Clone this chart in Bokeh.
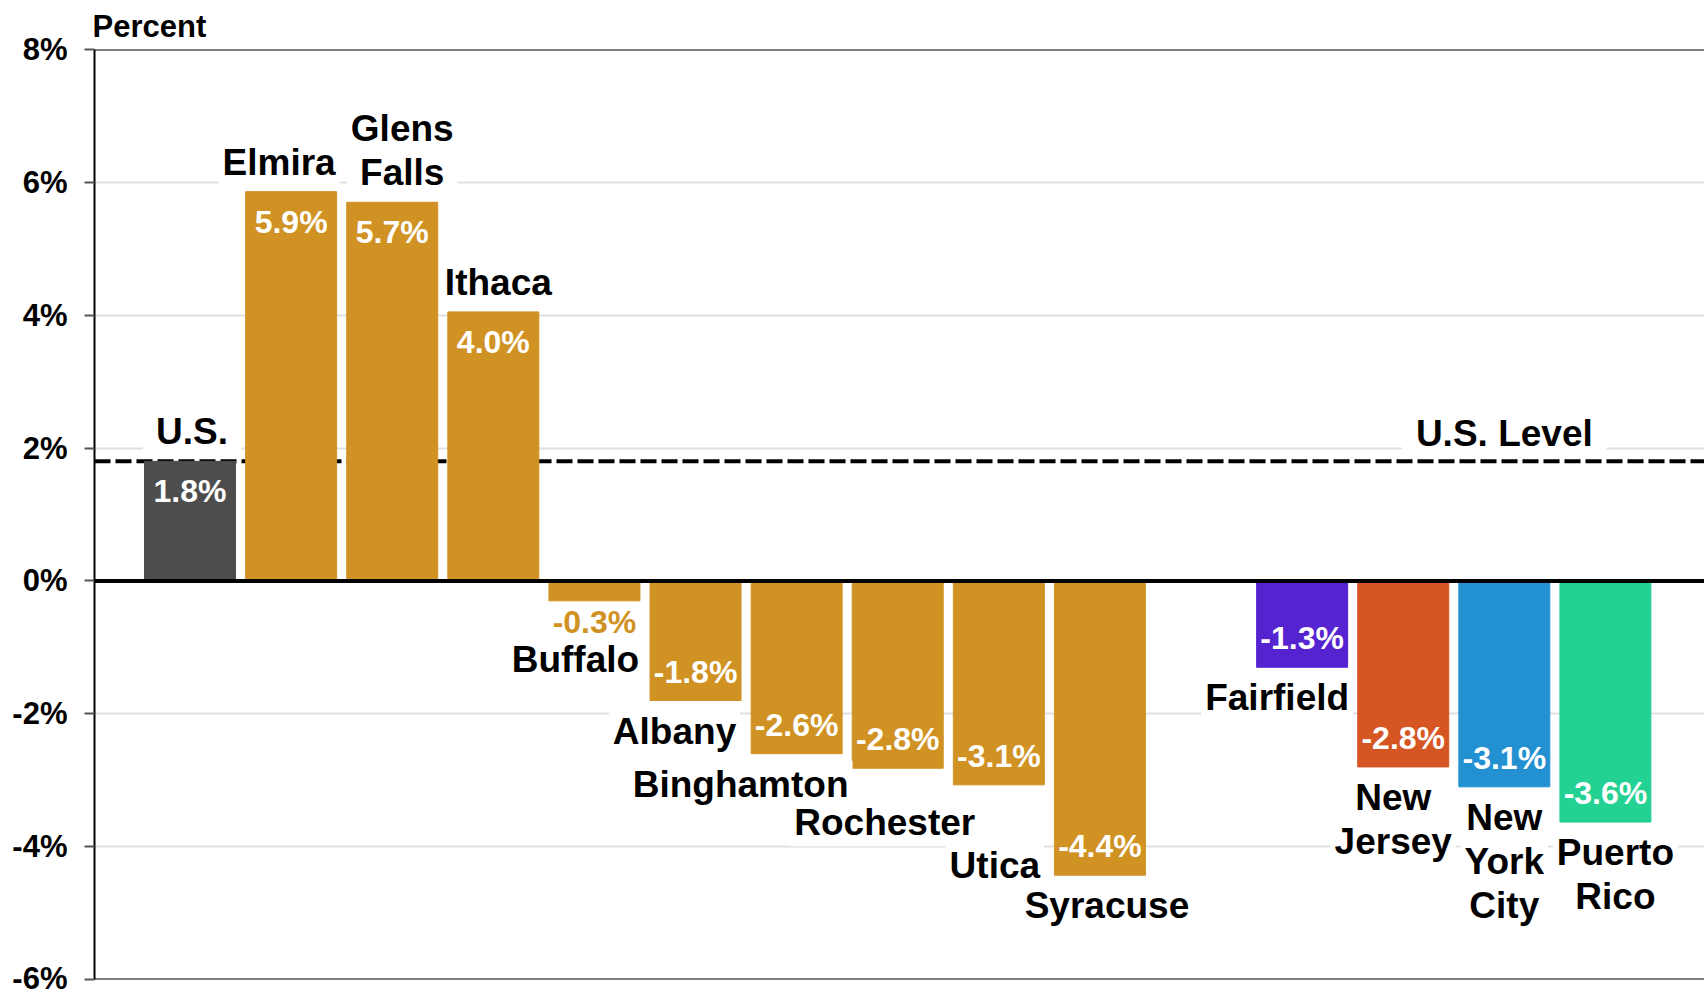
from bokeh.plotting import figure
from bokeh.models import Range1d, FixedTicker, PrintfTickFormatter, Span, Label, LabelSet, ColumnDataSource
from bokeh.core.properties import value
from bokeh.embed import file_html
from bokeh.resources import INLINE

# ---- data ----
names = ["U.S.", "Elmira", "Glens\nFalls", "Ithaca", "Buffalo", "Albany", "Binghamton",
         "Rochester", "Utica", "Syracuse", "Fairfield", "New\nJersey", "New\nYork\nCity", "Puerto\nRico"]
values = [1.8, 5.86, 5.7, 4.05, -0.3, -1.8, -2.6, -2.82, -3.07, -4.43, -1.3, -2.8, -3.1, -3.63]
value_text = ["1.8%", "5.9%", "5.7%", "4.0%", "-0.3%", "-1.8%", "-2.6%", "-2.8%", "-3.1%", "-4.4%",
              "-1.3%", "-2.8%", "-3.1%", "-3.6%"]
slots = [0, 1, 2, 3, 4, 5, 6, 7, 8, 9, 11, 12, 13, 14]
colors = ["#4D4D4D"] + ["#D19224"] * 9 + ["#5623D1", "#D55623", "#2391D1", "#23D192"]
y_ticks = [-6, -4, -2, 0, 2, 4, 6, 8]
us_level = 1.8
us_level_label = "U.S. Level"
unit_label = "Percent"

# ---- layout tweaks for name labels (screen px) ----
name_dx = [2, -12, 10, 5, -19, -21, -56, -13, -4, 7, -25, -10, 0, 10]
name_extra_dy = [0, 0, 0, 0, 28, 0, 0, 24, 50, 0, 0, 0, 0, 0]
name_hpad = [13, 4, 4, 4, 4, 4, 4, 4, 4, 4, 4, 4, 4, 4]

FONT = "Liberation Sans"

p = figure(width=1704, height=995, output_backend="svg", toolbar_location=None,
           x_range=Range1d(-0.945, 14.98), y_range=Range1d(y_ticks[0], y_ticks[-1]),
           min_border_left=94, min_border_right=0, min_border_top=46, min_border_bottom=16)
p.outline_line_color = None
p.background_fill_color = "white"
p.xaxis.visible = False
p.xgrid.visible = False

p.title.text = unit_label
p.title.text_font = FONT
p.title.text_font_style = "bold"
p.title.text_font_size = "31px"
p.title.text_color = "black"
p.title.align = "left"
p.title.offset = -2
p.title.standoff = 12

p.ygrid.ticker = FixedTicker(ticks=y_ticks)
p.ygrid.grid_line_color = "#e0e0e0"
p.ygrid.grid_line_width = 2

ax = p.yaxis[0]
ax.ticker = FixedTicker(ticks=y_ticks)
ax.formatter = PrintfTickFormatter(format="%d%%")
ax.axis_line_color = "black"
ax.axis_line_width = 2
ax.major_tick_out = 10
ax.major_tick_in = 0
ax.major_tick_line_color = "#555555"
ax.major_tick_line_width = 2
ax.minor_tick_line_color = None
ax.major_label_standoff = 17
ax.major_label_text_font = FONT
ax.major_label_text_font_style = "bold"
ax.major_label_text_font_size = "31px"
ax.major_label_text_color = "black"

# U.S. level dashed line (behind bars)
p.add_layout(Span(location=us_level, dimension="width", line_color="black", line_width=4,
                  line_dash="16 5", level="underlay"))

src = ColumnDataSource(dict(x=slots, top=values, color=colors))
p.vbar(x="x", top="top", bottom=0, width=0.9, color="color", source=src)

# borders and zero line
p.add_layout(Span(location=y_ticks[-1], dimension="width", line_color="black", line_width=2))
p.add_layout(Span(location=y_ticks[0], dimension="width", line_color="black", line_width=2))
p.add_layout(Span(location=0, dimension="width", line_color="black", line_width=4))

# value labels
vx, vy, vt, voff, vcol = [], [], [], [], []
for s, v, t, c in zip(slots, values, value_text, colors):
    vx.append(s); vy.append(v); vt.append(t)
    if abs(v) < 0.6:
        voff.append(-21); vcol.append(c)
    elif v >= 0:
        voff.append(-30); vcol.append("white")
    else:
        voff.append(29); vcol.append("white")
vsrc = ColumnDataSource(dict(x=vx, y=vy, t=vt, off=voff, col=vcol))
p.add_layout(LabelSet(x="x", y="y", text="t", y_offset="off", source=vsrc, text_color="col",
                      text_align="center", text_baseline="middle", text_font=value(FONT),
                      text_font_style="bold", text_font_size="32px"))

# name labels
for s, v, n, dx, edy, hp in zip(slots, values, names, name_dx, name_extra_dy, name_hpad):
    if v >= 0:
        lab = Label(x=s, y=v, text=n, x_offset=dx, y_offset=6, text_baseline="bottom")
    else:
        lab = Label(x=s, y=v, text=n, x_offset=dx, y_offset=-7 - edy, text_baseline="top")
    lab.text_align = "center"
    lab.text_font = FONT
    lab.text_font_style = "bold"
    lab.text_font_size = "37px"
    lab.text_color = "black"
    lab.text_line_height = 1.08
    lab.background_fill_color = "white"
    lab.padding = (hp, hp, 3, 3)
    p.add_layout(lab)

# U.S. Level label
p.add_layout(Label(x=slots[12], y=us_level, text=us_level_label, y_offset=4, text_align="center",
                   text_baseline="bottom", text_font=FONT, text_font_style="bold", text_color="black",
                   text_font_size="37px", background_fill_color="white", padding=(14, 14, 3, 3)))

open("out.html", "w").write(file_html(p, INLINE))
